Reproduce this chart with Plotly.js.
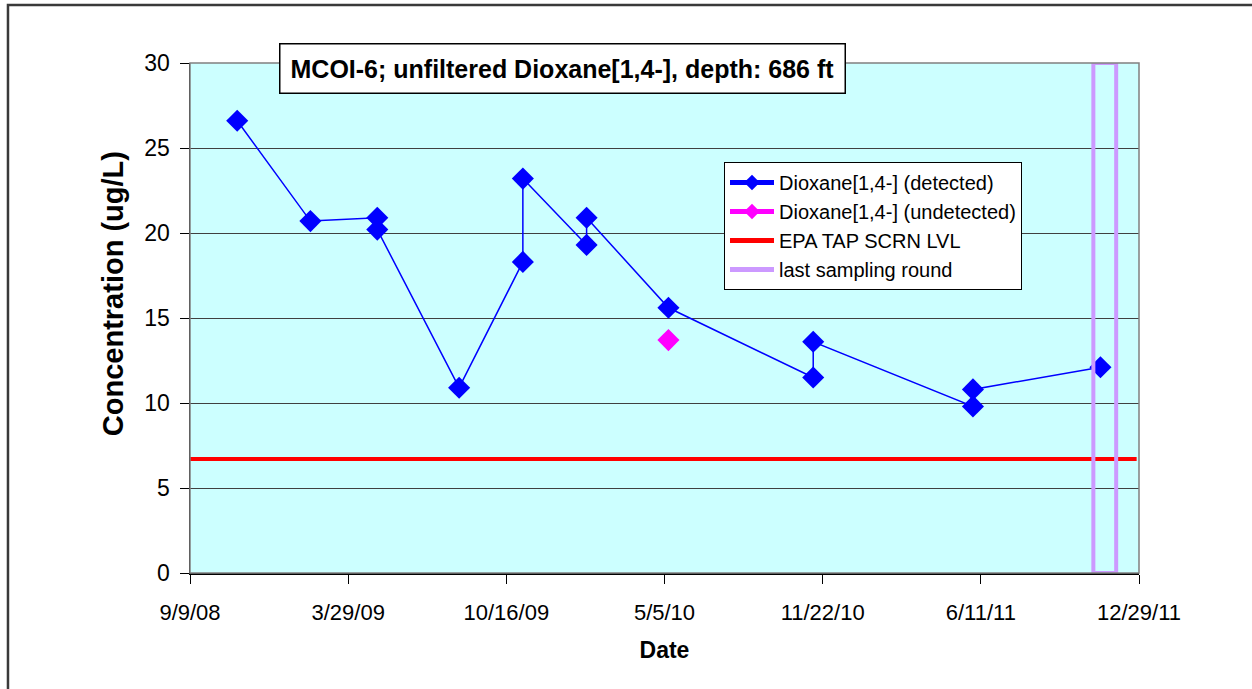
<!DOCTYPE html>
<html>
<head>
<meta charset="utf-8">
<script src="https://cdn.plot.ly/plotly-3.0.1.min.js"></script>
<style>
html,body{margin:0;padding:0;background:#fff;}
#chart{width:1252px;height:689px;}
</style>
</head>
<body>
<div id="chart"></div>
<script>
// Detected samples (in plotting order, duplicates on same date)
var detectedDates = ['2008-11-08','2009-02-09','2009-05-05','2009-05-05','2009-08-17','2009-11-06','2009-11-06','2010-01-26','2010-01-26','2010-05-10','2010-11-10','2010-11-10','2011-06-01','2011-06-01','2011-11-10'];
var detectedValues = [26.6, 20.7, 20.9, 20.2, 10.9, 18.3, 23.2, 19.3, 20.9, 15.6, 11.5, 13.6, 9.8, 10.8, 12.1];

// Undetected samples
var undetectedDates = ['2010-05-10'];
var undetectedValues = [13.7];

// EPA tap water screening level
var epaDates = ['2008-09-09','2011-12-26'];
var epaValues = [6.7, 6.7];

// Last sampling round box
var lastRoundDates = ['2011-11-01','2011-11-30','2011-11-30','2011-11-01','2011-11-01'];
var lastRoundValues = [0, 0, 30, 30, 0];

// Axis ticks
var xTickDates = ['2008-09-09','2009-03-29','2009-10-16','2010-05-05','2010-11-22','2011-06-11','2011-12-29'];
var xTickLabels = ['9/9/08','3/29/09','10/16/09','5/5/10','11/22/10','6/11/11','12/29/11'];

var titleText = 'MCOI-6; unfiltered Dioxane[1,4-], depth: 686 ft';
var yTitleText = 'Concentration (ug/L)';
var xTitleText = 'Date';
var FONT = 'Liberation Sans, Arial, sans-serif';

var traces = [
  {
    x: detectedDates, y: detectedValues, type: 'scatter', mode: 'lines+markers',
    name: 'Dioxane[1,4-] (detected)',
    line: {color: '#0000FF', width: 1.5},
    marker: {symbol: 'diamond', size: 17, color: '#0000FF'}
  },
  {
    x: undetectedDates, y: undetectedValues, type: 'scatter', mode: 'lines+markers',
    name: 'Dioxane[1,4-] (undetected)',
    line: {color: '#FF00FF', width: 1.5},
    marker: {symbol: 'diamond', size: 17, color: '#FF00FF'}
  },
  {
    x: epaDates, y: epaValues, type: 'scatter', mode: 'lines',
    name: 'EPA TAP SCRN LVL',
    line: {color: '#FF0000', width: 4}
  },
  {
    x: lastRoundDates, y: lastRoundValues, type: 'scatter', mode: 'lines',
    name: 'last sampling round',
    line: {color: '#CC99FF', width: 4}
  }
];

var layout = {
  width: 1252, height: 689,
  margin: {l: 190, r: 113, t: 63, b: 116},
  paper_bgcolor: '#FFFFFF',
  plot_bgcolor: '#CCFFFF',
  font: {family: FONT, color: '#000000', size: 22},
  showlegend: true,
  legend: {
    x: 0.5627, y: 0.806, xanchor: 'left', yanchor: 'top',
    bgcolor: '#FFFFFF', bordercolor: '#000000', borderwidth: 1,
    font: {family: FONT, size: 20, color: '#000000'},
    itemsizing: 'constant',
    itemwidth: 44,
    tracegroupgap: 0
  },
  xaxis: {
    type: 'date',
    range: ['2008-09-09', '2011-12-29'],
    tickmode: 'array', tickvals: xTickDates, ticktext: xTickLabels,
    ticks: 'outside', ticklen: 9, tickcolor: '#000000', tickwidth: 1,
    showline: true, linecolor: '#000000', linewidth: 1.5,
    showgrid: false, zeroline: false,
    tickfont: {family: FONT, size: 22, color: '#000000'},
    ticklabelstandoff: 10,
    title: {text: '<b>' + xTitleText + '</b>', font: {family: FONT, size: 23, color: '#000000'}, standoff: 18}
  },
  yaxis: {
    range: [0, 30], dtick: 5, tick0: 0,
    ticks: 'outside', ticklen: 9, tickcolor: '#000000', tickwidth: 1,
    showline: true, linecolor: '#000000', linewidth: 1.5,
    showgrid: true, gridcolor: '#404040', gridwidth: 1,
    zeroline: false,
    tickfont: {family: FONT, size: 23, color: '#000000'},
    ticklabelstandoff: 5
  },
  shapes: [
    {type: 'rect', xref: 'paper', yref: 'paper', x0: 0, x1: 1, y0: 0, y1: 1,
     line: {color: '#808080', width: 1.5}, fillcolor: 'rgba(0,0,0,0)', layer: 'above'},
    {type: 'rect', xref: 'paper', yref: 'paper', x0: -0.1918, x1: 1.3, y0: -0.4, y1: 1.1137,
     line: {color: '#3A3A3A', width: 2.5}, fillcolor: 'rgba(0,0,0,0)'}
  ],
  annotations: [
    {text: '<b>' + titleText + '</b>', xref: 'paper', yref: 'paper', x: 0.393, y: 0.989,
     xanchor: 'center', yanchor: 'middle', showarrow: false,
     font: {family: FONT, size: 25, color: '#000000'},
     bgcolor: '#FFFFFF', bordercolor: '#000000', borderwidth: 1.5, borderpad: 10},
    {text: '<b>' + yTitleText + '</b>', xref: 'paper', yref: 'paper', x: -0.081, y: 0.547,
     xanchor: 'center', yanchor: 'middle', showarrow: false, textangle: -90,
     font: {family: FONT, size: 29, color: '#000000'}}
  ]
};

Plotly.newPlot('chart', traces, layout, {displayModeBar: false, staticPlot: true});
</script>
</body>
</html>
